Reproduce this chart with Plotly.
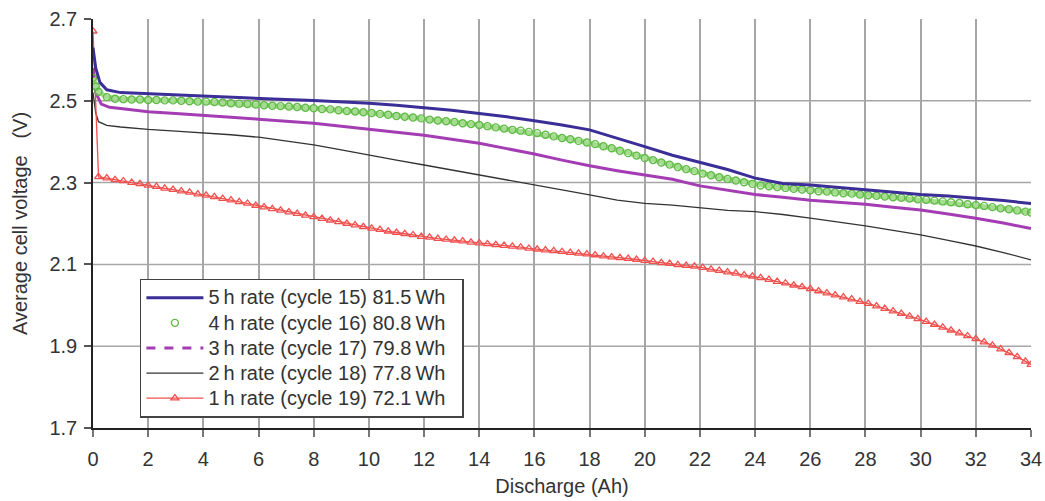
import plotly.graph_objects as go

# ---------------- data ----------------
# shared sampling grid (Ah) for the marker series
x_grid = [
    0.2, 0.5, 0.8, 1.1, 1.4, 1.7, 2.0,
    2.3, 2.6, 2.9, 3.2, 3.5, 3.8,
    4.1, 4.4, 4.7, 5.0, 5.3, 5.6, 5.9,
    6.2, 6.5, 6.8, 7.1, 7.4, 7.7, 8.0,
    8.3, 8.6, 8.9, 9.2, 9.5, 9.8,
    10.1, 10.4, 10.7, 11.0, 11.3, 11.6, 11.9,
    12.2, 12.5, 12.8, 13.1, 13.4, 13.7, 14.0,
    14.3, 14.6, 14.9, 15.2, 15.5, 15.8,
    16.1, 16.4, 16.7, 17.0, 17.3, 17.6, 17.9,
    18.2, 18.5, 18.8, 19.1, 19.4, 19.7, 20.0,
    20.3, 20.6, 20.9, 21.2, 21.5, 21.8,
    22.1, 22.4, 22.7, 23.0, 23.3, 23.6, 23.9,
    24.2, 24.5, 24.8, 25.1, 25.4, 25.7, 26.0,
    26.3, 26.6, 26.9, 27.2, 27.5, 27.8,
    28.1, 28.4, 28.7, 29.0, 29.3, 29.6, 29.9,
    30.2, 30.5, 30.8, 31.1, 31.4, 31.7, 32.0,
    32.3, 32.6, 32.9, 33.2, 33.5, 33.8, 34.0,
]

# 1 h rate (cycle 19)
x_1h = [0.0] + x_grid
v_1h = [2.670,
    2.314, 2.311, 2.307, 2.304, 2.300, 2.297, 2.293,
    2.290, 2.286, 2.283, 2.279, 2.276, 2.272,
    2.269, 2.265, 2.261, 2.257, 2.253, 2.249, 2.244,
    2.240, 2.236, 2.232, 2.228, 2.224, 2.220, 2.216,
    2.212, 2.208, 2.204, 2.200, 2.196, 2.192,
    2.188, 2.185, 2.181, 2.178, 2.175, 2.172, 2.168,
    2.166, 2.163, 2.161, 2.159, 2.157, 2.154, 2.152,
    2.150, 2.148, 2.146, 2.144, 2.142, 2.139,
    2.137, 2.135, 2.133, 2.131, 2.129, 2.127, 2.125,
    2.123, 2.120, 2.118, 2.116, 2.114, 2.112, 2.109,
    2.107, 2.104, 2.102, 2.099, 2.097, 2.095,
    2.092, 2.088, 2.085, 2.081, 2.078, 2.074, 2.071,
    2.067, 2.063, 2.058, 2.054, 2.049, 2.045, 2.040,
    2.035, 2.030, 2.025, 2.020, 2.015, 2.009,
    2.004, 1.998, 1.992, 1.986, 1.980, 1.973, 1.967,
    1.960, 1.953, 1.946, 1.939, 1.932, 1.925, 1.918,
    1.910, 1.902, 1.893, 1.884, 1.874, 1.863, 1.855,
]

# 4 h rate (cycle 16)
x_4h = [0.0, 0.1] + x_grid
v_4h = [2.556, 2.535,
    2.522, 2.509, 2.505, 2.504, 2.503, 2.503, 2.502,
    2.502, 2.501, 2.501, 2.500, 2.499, 2.498,
    2.498, 2.497, 2.496, 2.494, 2.493, 2.492, 2.491,
    2.489, 2.488, 2.487, 2.486, 2.485, 2.483, 2.482,
    2.480, 2.479, 2.477, 2.475, 2.474, 2.472,
    2.470, 2.468, 2.466, 2.463, 2.461, 2.459, 2.457,
    2.454, 2.452, 2.450, 2.448, 2.445, 2.443, 2.441,
    2.438, 2.435, 2.432, 2.429, 2.427, 2.424,
    2.421, 2.417, 2.413, 2.409, 2.406, 2.402, 2.398,
    2.394, 2.389, 2.384, 2.378, 2.372, 2.366, 2.360,
    2.355, 2.349, 2.344, 2.338, 2.333, 2.328,
    2.322, 2.318, 2.313, 2.309, 2.305, 2.301, 2.297,
    2.293, 2.291, 2.289, 2.287, 2.285, 2.283, 2.281,
    2.279, 2.278, 2.276, 2.274, 2.273, 2.271,
    2.269, 2.268, 2.266, 2.264, 2.263, 2.261, 2.259,
    2.258, 2.256, 2.254, 2.252, 2.250, 2.247, 2.245,
    2.243, 2.240, 2.237, 2.235, 2.232, 2.229, 2.227,
]

# 5 h rate (cycle 15)
x_5h = [0, 0.1, 0.25, 0.5, 1, 2, 3, 4, 5, 6, 7, 8, 9, 10, 11, 12, 13, 14, 15, 16, 17,
        18, 19, 20, 21, 22, 23, 24, 25, 26, 27, 28, 29, 30, 31, 32, 33, 34]
v_5h = [2.630, 2.580, 2.545, 2.527, 2.520, 2.517, 2.515, 2.512, 2.508, 2.505, 2.503,
        2.501, 2.498, 2.494, 2.489, 2.483, 2.477, 2.469, 2.461, 2.451, 2.441, 2.429,
        2.409, 2.388, 2.367, 2.349, 2.332, 2.311, 2.298, 2.294, 2.288, 2.282, 2.276,
        2.271, 2.267, 2.262, 2.256, 2.249]

# 3 h rate (cycle 17)
x_3h = [0, 0.1, 0.3, 0.6, 1, 2, 3, 4, 5, 6, 7, 8, 9, 10, 11, 12, 13, 14, 15, 16, 17,
        18, 19, 20, 21, 22, 23, 24, 25, 26, 27, 28, 29, 30, 31, 32, 33, 34]
v_3h = [2.580, 2.520, 2.492, 2.484, 2.481, 2.473, 2.469, 2.465, 2.460, 2.455, 2.450,
        2.445, 2.438, 2.430, 2.423, 2.416, 2.406, 2.396, 2.383, 2.370, 2.355, 2.341,
        2.329, 2.319, 2.308, 2.292, 2.282, 2.271, 2.264, 2.257, 2.252, 2.247, 2.240,
        2.233, 2.223, 2.213, 2.201, 2.188]

# 2 h rate (cycle 18)
x_2h = [0, 0.1, 0.2, 0.5, 1, 2, 3, 4, 5, 6, 7, 8, 9, 10, 11, 12, 13, 14, 15, 16, 17,
        18, 19, 20, 21, 22, 23, 24, 25, 26, 27, 28, 29, 30, 31, 32, 33, 34]
v_2h = [2.520, 2.470, 2.449, 2.440, 2.436, 2.430, 2.426, 2.422, 2.417, 2.411, 2.402,
        2.392, 2.380, 2.367, 2.355, 2.343, 2.331, 2.319, 2.306, 2.294, 2.282, 2.270,
        2.257, 2.249, 2.245, 2.239, 2.232, 2.229, 2.222, 2.213, 2.204, 2.194, 2.183,
        2.172, 2.159, 2.145, 2.129, 2.111]

names = [
    "5\u2009h rate (cycle 15) 81.5\u2009Wh",
    "4\u2009h rate (cycle 16) 80.8\u2009Wh",
    "3\u2009h rate (cycle 17) 79.8\u2009Wh",
    "2\u2009h rate (cycle 18) 77.8\u2009Wh",
    "1\u2009h rate (cycle 19) 72.1\u2009Wh",
]
x_ticks = [0, 2, 4, 6, 8, 10, 12, 14, 16, 18, 20, 22, 24, 26, 28, 30, 32, 34]
y_ticks = [1.7, 1.9, 2.1, 2.3, 2.5, 2.7]
y_grid = [1.9, 2.1, 2.3, 2.5]

# ---------------- styles ----------------
C_BLUE = "#3b2e97"
C_GREEN = "#5fbb45"
C_GREEN_BAND = "#a5dc90"
C_PURPLE = "#a43cb4"
C_BLACK = "#333333"
C_RED = "#f0504e"
TXT = "#333333"
GRID = "#a6a6a6"
FONT = "Liberation Sans, Arial, sans-serif"


def leg(label):
    # legend rows are spaced for 17px text, but the text itself is drawn at 20px
    return f"<span style='font-size:20px'>{label}\u00a0\u00a0</span>"


fig = go.Figure()

# 2 h (black thin)
fig.add_trace(go.Scatter(x=x_2h, y=v_2h, mode="lines", name=leg(names[3]), legendrank=4,
                         line=dict(color=C_BLACK, width=1.3)))
# 1 h (red with open triangles)
fig.add_trace(go.Scatter(x=x_1h, y=v_1h, mode="lines+markers", name=leg(names[4]), legendrank=5,
                         line=dict(color=C_RED, width=1.3),
                         marker=dict(symbol="triangle-up-open", size=7, color=C_RED,
                                     line=dict(width=1.3, color=C_RED))))
# 3 h (purple, solid in plot; dashed in legend)
fig.add_trace(go.Scatter(x=x_3h, y=v_3h, mode="lines", showlegend=False,
                         line=dict(color=C_PURPLE, width=3)))
fig.add_trace(go.Scatter(x=[None], y=[None], mode="lines", name=leg(names[2]), legendrank=3,
                         line=dict(color=C_PURPLE, width=3, dash="dash")))
# 4 h (green open circles)
fig.add_trace(go.Scatter(x=x_4h, y=v_4h, mode="lines", showlegend=False,
                         line=dict(color=C_GREEN_BAND, width=5)))
fig.add_trace(go.Scatter(x=x_4h, y=v_4h, mode="markers", name=leg(names[1]), legendrank=2,
                         marker=dict(symbol="circle-open", size=7, color=C_GREEN,
                                     line=dict(width=1.4, color=C_GREEN))))
# 5 h (dark blue thick)
fig.add_trace(go.Scatter(x=x_5h, y=v_5h, mode="lines", name=leg(names[0]), legendrank=1,
                         line=dict(color=C_BLUE, width=3)))

fig.update_layout(
    width=1045, height=501,
    margin=dict(l=93, r=14, t=19, b=73, autoexpand=False),
    paper_bgcolor="white", plot_bgcolor="white",
    font=dict(family=FONT, size=20, color=TXT),
    showlegend=True,
    legend=dict(x=0.05, y=0.365, xanchor="left", yanchor="top",
                bgcolor="white", bordercolor="#444444", borderwidth=1.5,
                font=dict(family=FONT, size=17, color=TXT),
                itemwidth=57, tracegroupgap=0),
)

fig.update_xaxes(
    range=[0, 34], tickvals=x_ticks, ticktext=[str(t) for t in x_ticks],
    automargin=False,
    showgrid=True, gridcolor=GRID, gridwidth=1.5, zeroline=False,
    showline=True, linecolor="#222222", linewidth=1.5,
    ticks="outside", ticklen=7, tickcolor="#777777", tickwidth=1.5,
    ticklabelstandoff=5,
    tickfont=dict(size=20, color=TXT),
    title=dict(text="Discharge (Ah)", font=dict(size=20, color=TXT), standoff=10),
)
fig.update_yaxes(
    range=[1.7, 2.7], tickvals=y_ticks, ticktext=[f"{t:.1f}" for t in y_ticks],
    automargin=False,
    showgrid=False, zeroline=False,
    showline=True, linecolor="#222222", linewidth=1.5,
    ticks="outside", ticklen=7, tickcolor="#555555", tickwidth=1.5,
    ticklabelstandoff=3,
    tickfont=dict(size=20, color=TXT),
    title=dict(text="Average cell voltage\u00a0\u00a0\u00a0(V)", font=dict(size=20, color=TXT), standoff=16),
)

# horizontal gridlines (no line along the top edge, as in the reference)
for gy in y_grid:
    fig.add_hline(y=gy, line=dict(color=GRID, width=1.5), layer="below")

fig.write_html("out.html")
